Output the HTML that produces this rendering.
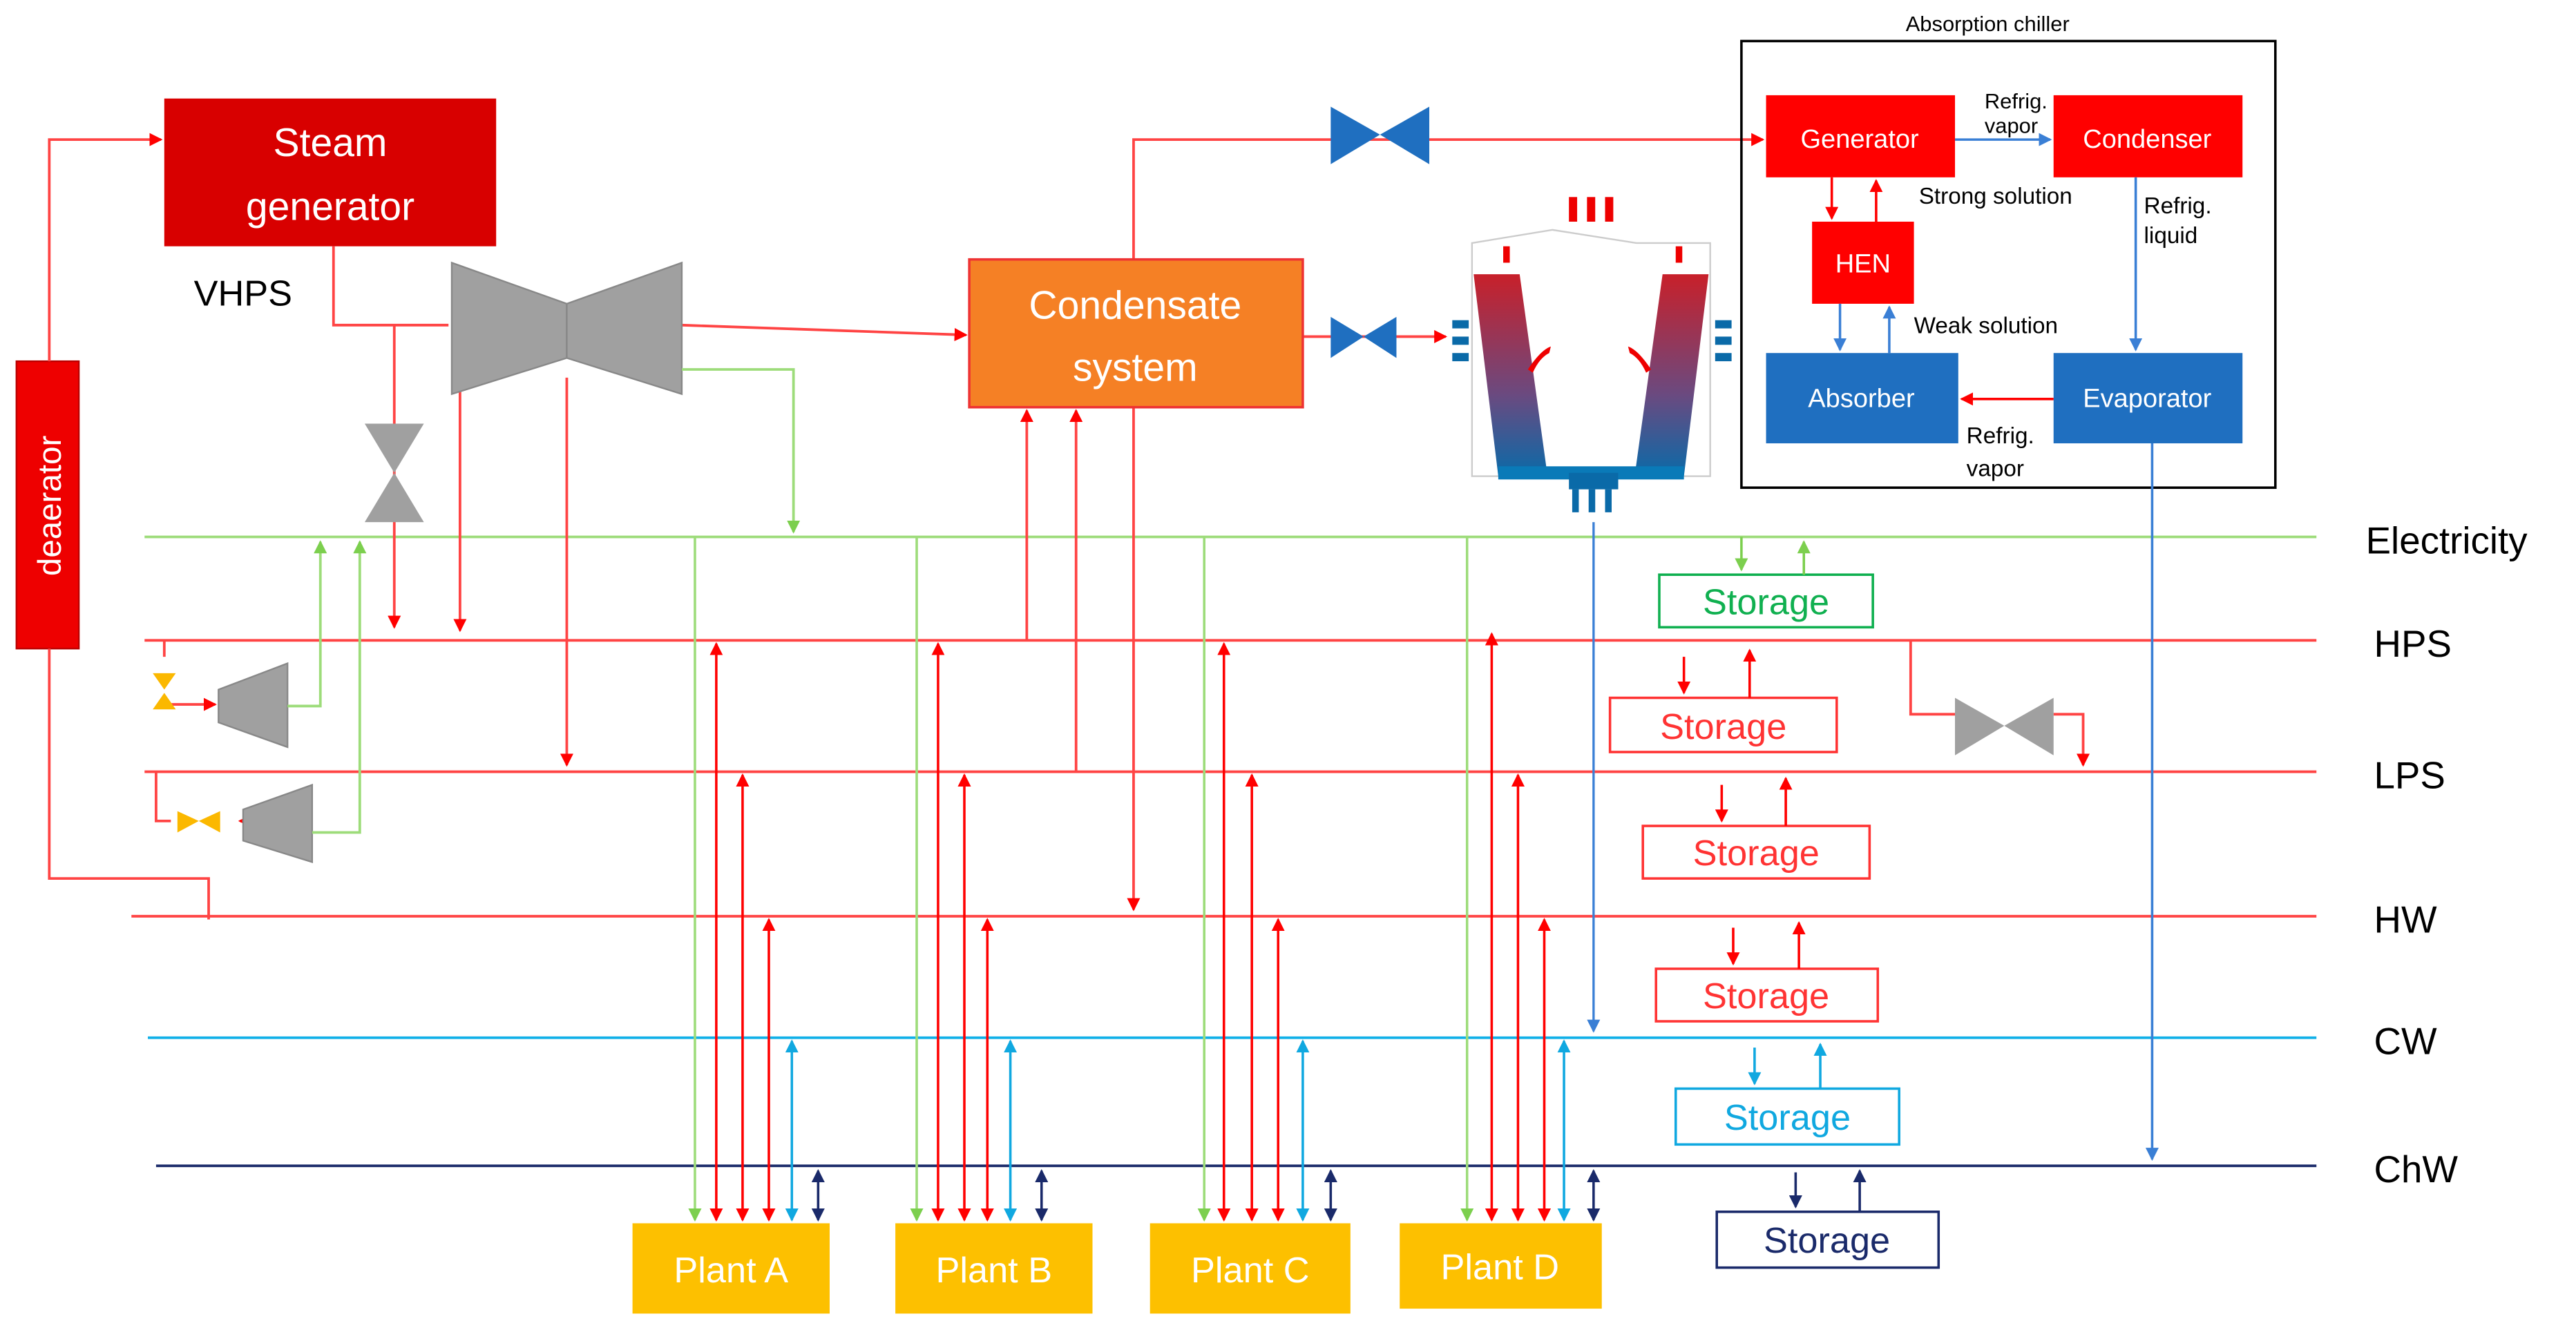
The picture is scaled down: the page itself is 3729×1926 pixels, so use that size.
<!DOCTYPE html>
<html><head><meta charset="utf-8"><style>html,body{margin:0;padding:0;background:#fff}svg{display:block}</style></head><body>
<svg width="3729" height="1926" viewBox="0 0 1568 810" preserveAspectRatio="none" xmlns="http://www.w3.org/2000/svg" font-family="Liberation Sans, sans-serif">
<defs>
<marker id="r" markerWidth="8" markerHeight="8" refX="7" refY="4" orient="auto" markerUnits="userSpaceOnUse"><path d="M0,0L8,4L0,8z" fill="#f00"/></marker>
<marker id="rs" markerWidth="8" markerHeight="8" refX="1" refY="4" orient="auto" markerUnits="userSpaceOnUse"><path d="M8,0L0,4L8,8z" fill="#f00"/></marker>
<marker id="g" markerWidth="8" markerHeight="8" refX="7" refY="4" orient="auto" markerUnits="userSpaceOnUse"><path d="M0,0L8,4L0,8z" fill="#7ccf4e"/></marker>
<marker id="b" markerWidth="8" markerHeight="8" refX="7" refY="4" orient="auto" markerUnits="userSpaceOnUse"><path d="M0,0L8,4L0,8z" fill="#3a7fd5"/></marker>
<marker id="c" markerWidth="8" markerHeight="8" refX="7" refY="4" orient="auto" markerUnits="userSpaceOnUse"><path d="M0,0L8,4L0,8z" fill="#10a8e0"/></marker>
<marker id="cs" markerWidth="8" markerHeight="8" refX="1" refY="4" orient="auto" markerUnits="userSpaceOnUse"><path d="M8,0L0,4L8,8z" fill="#10a8e0"/></marker>
<marker id="n" markerWidth="8" markerHeight="8" refX="7" refY="4" orient="auto" markerUnits="userSpaceOnUse"><path d="M0,0L8,4L0,8z" fill="#1a2a6a"/></marker>
<marker id="ns" markerWidth="8" markerHeight="8" refX="1" refY="4" orient="auto" markerUnits="userSpaceOnUse"><path d="M8,0L0,4L8,8z" fill="#1a2a6a"/></marker>
<linearGradient id="tw" x1="0" y1="0" x2="0" y2="1"><stop offset="0" stop-color="#c8202a"/><stop offset="0.6" stop-color="#6a4a80"/><stop offset="1" stop-color="#0a6aa8"/></linearGradient>
</defs>

<g stroke-width="1.6" fill="none">
<line x1="88" y1="327" x2="1410" y2="327" stroke="#9ddc7a"/>
<line x1="88" y1="390" x2="1410" y2="390" stroke="#f44"/>
<line x1="88" y1="470" x2="1410" y2="470" stroke="#f44"/>
<line x1="80" y1="558" x2="1410" y2="558" stroke="#f44"/>
<line x1="90" y1="632" x2="1410" y2="632" stroke="#10b0e8"/>
<line x1="95" y1="710" x2="1410" y2="710" stroke="#1a2a6a"/>
</g>
<g font-size="23" fill="#000">
<text x="1440" y="337">Electricity</text>
<text x="1445" y="400">HPS</text>
<text x="1445" y="480">LPS</text>
<text x="1445" y="568">HW</text>
<text x="1445" y="642">CW</text>
<text x="1445" y="720">ChW</text>
</g>

<rect x="10" y="220" width="38" height="175" fill="#e00" stroke="#b00"/>
<text transform="translate(37,308) rotate(-90)" text-anchor="middle" font-size="20" fill="#fff">deaerator</text>
<g stroke="#f44" stroke-width="1.6" fill="none">
<polyline points="30,220 30,85 98,85" marker-end="url(#r)"/>
<polyline points="30,395 30,535 127,535 127,560"/>
</g>

<rect x="100" y="60" width="202" height="90" fill="#d80000"/>
<text x="201" y="95" text-anchor="middle" font-size="24" fill="#fff">Steam</text>
<text x="201" y="134" text-anchor="middle" font-size="24" fill="#fff">generator</text>
<text x="118" y="186" font-size="22">VHPS</text>

<g stroke="#f44" stroke-width="1.6" fill="none">
<polyline points="203,150 203,198 273,198" />
<line x1="240" y1="198" x2="240" y2="382" marker-end="url(#r)"/>
<line x1="280" y1="230" x2="280" y2="384" marker-end="url(#r)"/>
<line x1="345" y1="230" x2="345" y2="466" marker-end="url(#r)"/>
<line x1="415" y1="198" x2="588" y2="204" marker-end="url(#r)"/>
<polyline points="690,158 690,85 1073,85" marker-end="url(#r)"/>
<line x1="793" y1="205" x2="880" y2="205" marker-end="url(#r)"/>
<line x1="625" y1="390" x2="625" y2="250" marker-end="url(#r)"/>
<line x1="655" y1="470" x2="655" y2="250" marker-end="url(#r)"/>
<line x1="690" y1="248" x2="690" y2="554" marker-end="url(#r)"/>
<polyline points="1163,390 1163,435 1190,435"/>
<polyline points="1250,435 1268,435 1268,466" marker-end="url(#r)"/>
<line x1="100" y1="390" x2="100" y2="400"/>
<polyline points="100,429 131,429" marker-end="url(#r)"/>
<polyline points="95,470 95,500 104,500"/>
<polyline points="160,500 146,500" marker-end="url(#r)"/>
</g>
<polygon points="275,160 345,185 345,218 275,240" fill="#a0a0a0" stroke="#888"/>
<polygon points="345,185 415,160 415,240 345,218" fill="#a0a0a0" stroke="#888"/>
<polygon points="222,258 258,258 240,288" fill="#a0a0a0"/>
<polygon points="222,318 258,318 240,288" fill="#a0a0a0"/>
<polygon points="133,420 175,404 175,455 133,440" fill="#a0a0a0" stroke="#888"/>
<polygon points="148,493 190,478 190,525 148,512" fill="#a0a0a0" stroke="#888"/>
<polygon points="93,410 107,410 100,420" fill="#fbb800"/>
<polygon points="93,432 107,432 100,422" fill="#fbb800"/>
<polygon points="108,494 108,507 121,500" fill="#fbb800"/>
<polygon points="134,494 134,507 121,500" fill="#fbb800"/>
<g stroke="#9ddc7a" stroke-width="1.6" fill="none">
<polyline points="415,225 483,225 483,324" marker-end="url(#g)"/>
<polyline points="175,430 195,430 195,330" marker-end="url(#g)"/>
<polyline points="190,507 219,507 219,330" marker-end="url(#g)"/>
</g>

<rect x="590" y="158" width="203" height="90" fill="#f58025" stroke="#e33" stroke-width="1.5"/>
<text x="691" y="194" text-anchor="middle" font-size="24" fill="#fff">Condensate</text>
<text x="691" y="232" text-anchor="middle" font-size="24" fill="#fff">system</text>
<polygon points="810,65 840,82 810,100" fill="#1f6fc0"/><polygon points="870,65 840,82 870,100" fill="#1f6fc0"/>
<polygon points="810,193 830,205 810,218" fill="#1f6fc0"/><polygon points="850,193 830,205 850,218" fill="#1f6fc0"/>
<polygon points="1190,425 1220,442 1190,460" fill="#a0a0a0"/><polygon points="1250,425 1220,442 1250,460" fill="#a0a0a0"/>

<g>
<polygon points="896,148 945,140 996,148 1041,148 1041,290 896,290" fill="#fff" stroke="#ccc"/>
<polygon points="897,167 925,167 942,290 912,290" fill="url(#tw)"/>
<polygon points="1040,167 1012,167 995,290 1025,290" fill="url(#tw)"/>
<rect x="912" y="284" width="113" height="8" fill="#0a7ab8"/>
<rect x="955" y="288" width="30" height="10" fill="#0a6aa8"/>
<g fill="#e00"><rect x="955" y="120" width="5" height="15"/><rect x="966" y="120" width="5" height="15"/><rect x="977" y="120" width="5" height="15"/>
<rect x="915" y="150" width="4" height="10"/><rect x="1020" y="150" width="4" height="10"/>
<path d="M930,225 q8,-12 14,-14 l-1,4 q-6,3 -10,12z M1005,225 q-8,-12 -14,-14 l1,4 q6,3 10,12z"/></g>
<g fill="#0a6aa8"><rect x="884" y="195" width="10" height="5"/><rect x="884" y="205" width="10" height="5"/><rect x="884" y="215" width="10" height="5"/>
<rect x="1044" y="195" width="10" height="5"/><rect x="1044" y="205" width="10" height="5"/><rect x="1044" y="215" width="10" height="5"/>
<rect x="957" y="298" width="4" height="14"/><rect x="967" y="298" width="4" height="14"/><rect x="977" y="298" width="4" height="14"/></g>
</g>
<line x1="970" y1="318" x2="970" y2="628" stroke="#3a7fd5" stroke-width="1.4" marker-end="url(#b)"/>

<rect x="1060" y="25" width="325" height="272" fill="none" stroke="#000" stroke-width="1.5"/>
<text x="1160" y="19" font-size="13">Absorption chiller</text>
<rect x="1075" y="58" width="115" height="50" fill="#f00"/>
<text x="1132" y="90" text-anchor="middle" font-size="16" fill="#fff">Generator</text>
<rect x="1250" y="58" width="115" height="50" fill="#f00"/>
<text x="1307" y="90" text-anchor="middle" font-size="16" fill="#fff">Condenser</text>
<rect x="1103" y="135" width="62" height="50" fill="#f00"/>
<text x="1134" y="166" text-anchor="middle" font-size="16" fill="#fff">HEN</text>
<rect x="1075" y="215" width="117" height="55" fill="#1f6fc0"/>
<text x="1133" y="248" text-anchor="middle" font-size="16" fill="#fff">Absorber</text>
<rect x="1250" y="215" width="115" height="55" fill="#1f6fc0"/>
<text x="1307" y="248" text-anchor="middle" font-size="16" fill="#fff">Evaporator</text>
<g font-size="14">
<text x="1208" y="66" font-size="13">Refrig.</text><text x="1208" y="81" font-size="13">vapor</text>
<text x="1168" y="124">Strong solution</text>
<text x="1305" y="130">Refrig.</text><text x="1305" y="148">liquid</text>
<text x="1165" y="203">Weak solution</text>
<text x="1197" y="270">Refrig.</text><text x="1197" y="290">vapor</text>
</g>
<g stroke-width="1.5" fill="none">
<line x1="1190" y1="85" x2="1248" y2="85" stroke="#3a7fd5" marker-end="url(#b)"/>
<line x1="1115" y1="108" x2="1115" y2="133" stroke="#f00" marker-end="url(#r)"/>
<line x1="1142" y1="135" x2="1142" y2="110" stroke="#f00" marker-end="url(#r)"/>
<line x1="1120" y1="185" x2="1120" y2="213" stroke="#3a7fd5" marker-end="url(#b)"/>
<line x1="1150" y1="215" x2="1150" y2="187" stroke="#3a7fd5" marker-end="url(#b)"/>
<line x1="1300" y1="108" x2="1300" y2="213" stroke="#3a7fd5" marker-end="url(#b)"/>
<line x1="1250" y1="243" x2="1194" y2="243" stroke="#f00" marker-end="url(#r)"/>
<line x1="1310" y1="270" x2="1310" y2="706" stroke="#3a7fd5" marker-end="url(#b)"/>
</g>

<g stroke-width="1.5" fill="none">
<g stroke="#9ddc7a"><line x1="423" y1="327" x2="423" y2="743" marker-end="url(#g)"/><line x1="558" y1="327" x2="558" y2="743" marker-end="url(#g)"/><line x1="733" y1="327" x2="733" y2="743" marker-end="url(#g)"/><line x1="893" y1="327" x2="893" y2="743" marker-end="url(#g)"/></g>
<g stroke="#f00">
<line x1="436" y1="392" x2="436" y2="743" marker-start="url(#rs)" marker-end="url(#r)"/>
<line x1="452" y1="472" x2="452" y2="743" marker-start="url(#rs)" marker-end="url(#r)"/>
<line x1="468" y1="560" x2="468" y2="743" marker-start="url(#rs)" marker-end="url(#r)"/>
<line x1="571" y1="392" x2="571" y2="743" marker-start="url(#rs)" marker-end="url(#r)"/>
<line x1="587" y1="472" x2="587" y2="743" marker-start="url(#rs)" marker-end="url(#r)"/>
<line x1="601" y1="560" x2="601" y2="743" marker-start="url(#rs)" marker-end="url(#r)"/>
<line x1="745" y1="392" x2="745" y2="743" marker-start="url(#rs)" marker-end="url(#r)"/>
<line x1="762" y1="472" x2="762" y2="743" marker-start="url(#rs)" marker-end="url(#r)"/>
<line x1="778" y1="560" x2="778" y2="743" marker-start="url(#rs)" marker-end="url(#r)"/>
<line x1="908" y1="386" x2="908" y2="743" marker-start="url(#rs)" marker-end="url(#r)"/>
<line x1="924" y1="472" x2="924" y2="743" marker-start="url(#rs)" marker-end="url(#r)"/>
<line x1="940" y1="560" x2="940" y2="743" marker-start="url(#rs)" marker-end="url(#r)"/>
</g>
<g stroke="#10a8e0">
<line x1="482" y1="634" x2="482" y2="743" marker-start="url(#cs)" marker-end="url(#c)"/>
<line x1="615" y1="634" x2="615" y2="743" marker-start="url(#cs)" marker-end="url(#c)"/>
<line x1="793" y1="634" x2="793" y2="743" marker-start="url(#cs)" marker-end="url(#c)"/>
<line x1="952" y1="634" x2="952" y2="743" marker-start="url(#cs)" marker-end="url(#c)"/>
</g>
<g stroke="#1a2a6a">
<line x1="498" y1="713" x2="498" y2="743" marker-start="url(#ns)" marker-end="url(#n)"/>
<line x1="634" y1="713" x2="634" y2="743" marker-start="url(#ns)" marker-end="url(#n)"/>
<line x1="810" y1="713" x2="810" y2="743" marker-start="url(#ns)" marker-end="url(#n)"/>
<line x1="970" y1="713" x2="970" y2="743" marker-start="url(#ns)" marker-end="url(#n)"/>
</g>
</g>
<g fill="#fdc000">
<rect x="385" y="745" width="120" height="55"/><rect x="545" y="745" width="120" height="55"/><rect x="700" y="745" width="122" height="55"/><rect x="852" y="745" width="123" height="52"/>
</g>
<g font-size="22" fill="#fff" text-anchor="middle">
<text x="445" y="781">Plant A</text><text x="605" y="781">Plant B</text><text x="761" y="781">Plant C</text><text x="913" y="779">Plant D</text>
</g>

<g stroke-width="1.5" font-size="22" text-anchor="middle">
<rect x="1010" y="350" width="130" height="32" fill="#fff" stroke="#10b050"/><text x="1075" y="374" fill="#10b050" stroke="none">Storage</text>
<rect x="980" y="425" width="138" height="33" fill="#fff" stroke="#f33"/><text x="1049" y="450" fill="#f33" stroke="none">Storage</text>
<rect x="1000" y="503" width="138" height="32" fill="#fff" stroke="#f33"/><text x="1069" y="527" fill="#f33" stroke="none">Storage</text>
<rect x="1008" y="590" width="135" height="32" fill="#fff" stroke="#f33"/><text x="1075" y="614" fill="#f33" stroke="none">Storage</text>
<rect x="1020" y="663" width="136" height="34" fill="#fff" stroke="#10a8e0"/><text x="1088" y="688" fill="#10a8e0" stroke="none">Storage</text>
<rect x="1045" y="738" width="135" height="34" fill="#fff" stroke="#1a2a6a"/><text x="1112" y="763" fill="#1a2a6a" stroke="none">Storage</text>
</g>
<g stroke-width="1.5">
<line x1="1060" y1="327" x2="1060" y2="347" stroke="#7ccf4e" marker-end="url(#g)"/><line x1="1098" y1="350" x2="1098" y2="330" stroke="#7ccf4e" marker-end="url(#g)"/>
<line x1="1025" y1="400" x2="1025" y2="422" stroke="#f00" marker-end="url(#r)"/><line x1="1065" y1="425" x2="1065" y2="396" stroke="#f00" marker-end="url(#r)"/>
<line x1="1048" y1="478" x2="1048" y2="500" stroke="#f00" marker-end="url(#r)"/><line x1="1087" y1="503" x2="1087" y2="474" stroke="#f00" marker-end="url(#r)"/>
<line x1="1055" y1="565" x2="1055" y2="587" stroke="#f00" marker-end="url(#r)"/><line x1="1095" y1="590" x2="1095" y2="562" stroke="#f00" marker-end="url(#r)"/>
<line x1="1068" y1="638" x2="1068" y2="660" stroke="#10a8e0" marker-end="url(#c)"/><line x1="1108" y1="663" x2="1108" y2="636" stroke="#10a8e0" marker-end="url(#c)"/>
<line x1="1093" y1="714" x2="1093" y2="735" stroke="#1a2a6a" marker-end="url(#n)"/><line x1="1132" y1="738" x2="1132" y2="713" stroke="#1a2a6a" marker-end="url(#n)"/>
</g>
</svg>
</body></html>
